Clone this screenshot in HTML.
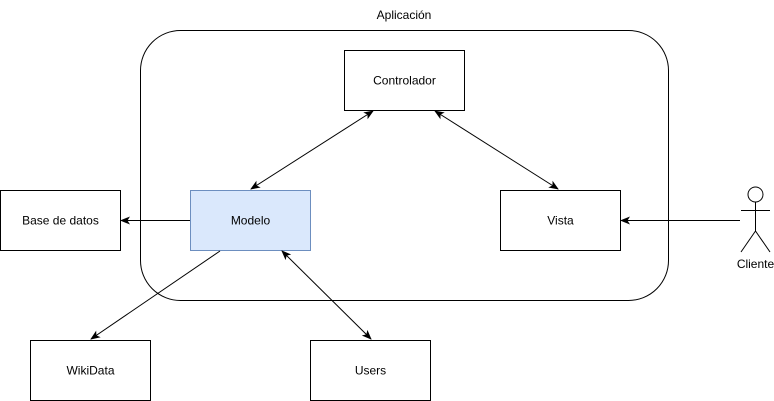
<!DOCTYPE html>
<html><head><meta charset="utf-8"><style>
html,body{margin:0;padding:0;background:#fff;width:774px;height:401px;overflow:hidden}
text{font-family:"Liberation Sans",Helvetica,sans-serif;font-size:12px;fill:#000}
</style></head><body>
<svg width="774" height="401" viewBox="0 0 774 401" xmlns="http://www.w3.org/2000/svg">
<defs>
<marker id="a" viewBox="0 0 10 10" refX="9" refY="5" markerWidth="10" markerHeight="10" markerUnits="userSpaceOnUse" orient="auto-start-reverse">
<path d="M0,1 L10,5 L0,9 L2.5,5 Z" fill="#000"/>
</marker>
</defs>
<rect x="140.5" y="30.5" width="528" height="270" rx="40" fill="#fff" stroke="#000"/>
<text x="404" y="19" text-anchor="middle">Aplicación</text>
<rect x="344.5" y="50.5" width="120" height="60" fill="#fff" stroke="#000"/>
<text x="404.5" y="84.5" text-anchor="middle">Controlador</text>
<rect x="190.5" y="190.5" width="120" height="60" fill="#dae8fc" stroke="#6c8ebf"/>
<text x="250.5" y="224.5" text-anchor="middle">Modelo</text>
<rect x="500.5" y="190.5" width="120" height="60" fill="#fff" stroke="#000"/>
<text x="560.5" y="224.5" text-anchor="middle">Vista</text>
<rect x="0.5" y="190.5" width="120" height="60" fill="#fff" stroke="#000"/>
<text x="60.5" y="224.5" text-anchor="middle">Base de datos</text>
<rect x="30.5" y="340.5" width="120" height="60" fill="#fff" stroke="#000"/>
<text x="90.5" y="374.5" text-anchor="middle">WikiData</text>
<rect x="310.5" y="340.5" width="120" height="60" fill="#fff" stroke="#000"/>
<text x="370.5" y="374.5" text-anchor="middle">Users</text>
<g stroke="#000" fill="none">
<line x1="373" y1="111" x2="251" y2="189" marker-start="url(#a)" marker-end="url(#a)"/>
<line x1="435" y1="111" x2="558" y2="189" marker-start="url(#a)" marker-end="url(#a)"/>
<line x1="190" y1="220.5" x2="121" y2="220.5" marker-end="url(#a)"/>
<line x1="740" y1="220.5" x2="621" y2="220.5" marker-end="url(#a)"/>
<line x1="220" y1="251" x2="91" y2="339" marker-end="url(#a)"/>
<line x1="282" y1="251" x2="371" y2="339" marker-start="url(#a)" marker-end="url(#a)"/>
<circle cx="755.5" cy="194.5" r="7.5" fill="#fff"/>
<line x1="755.5" y1="202" x2="755.5" y2="231"/>
<line x1="741" y1="210.5" x2="770" y2="210.5"/>
<line x1="755.5" y1="231" x2="741" y2="252"/>
<line x1="755.5" y1="231" x2="770" y2="252"/>
</g>
<text x="755.5" y="268" text-anchor="middle">Cliente</text>
</svg>
</body></html>
